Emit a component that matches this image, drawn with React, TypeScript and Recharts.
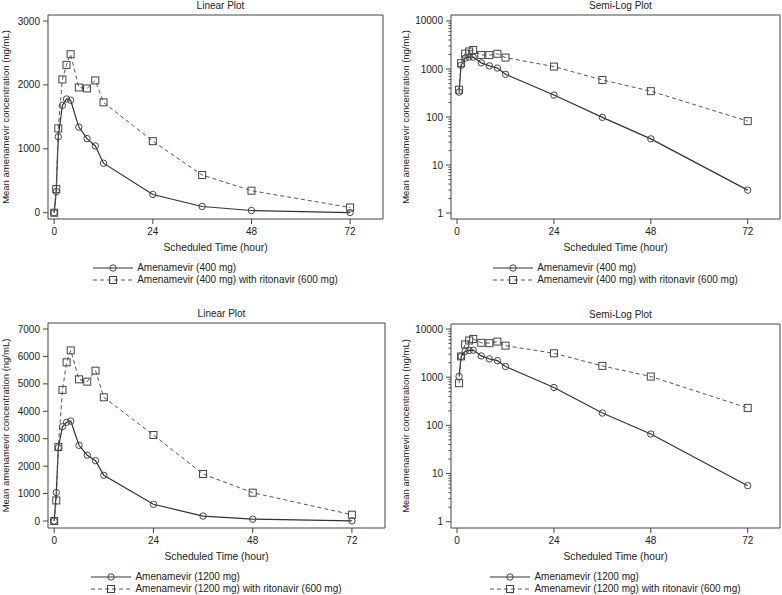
import React from 'react';
import { LineChart, Line, XAxis, YAxis, ReferenceArea, Legend } from 'recharts';

// scheduled sampling times (hour)
const hours = [0, 0.5, 1, 2, 3, 4, 6, 8, 10, 12, 24, 36, 48, 72];

// mean concentrations (ng/mL)
const amv400 = [0, 330, 1190, 1680, 1780, 1760, 1340, 1160, 1045, 775, 286, 98, 35, 3.0];
const amv400Rtv = [0, 370, 1320, 2086, 2314, 2480, 1960, 1945, 2070, 1727, 1120, 590, 345, 82];
const amv1200 = [0, 1040, 2670, 3440, 3600, 3645, 2760, 2400, 2200, 1665, 610, 180, 66, 5.6];
const amv1200Rtv = [0, 750, 2700, 4780, 5785, 6220, 5165, 5080, 5480, 4510, 3135, 1713, 1032, 230];

const names400 = ['Amenamevir (400 mg)', 'Amenamevir (400 mg) with ritonavir (600 mg)'];
const names1200 = ['Amenamevir (1200 mg)', 'Amenamevir (1200 mg) with ritonavir (600 mg)'];

const xTicks = [0, 24, 48, 72];
const yTicks400 = [0, 1000, 2000, 3000];
const yTicks1200 = [0, 1000, 2000, 3000, 4000, 5000, 6000, 7000];
const logTicks = [1, 10, 100, 1000, 10000];

const X_DOMAIN: [number, number] = [-1.5, 80];
const FONT = '"Liberation Sans", Arial, sans-serif';
const INK = '#222';
const SOLID = '#333';
const DASHED = '#555';

const buildRows = (a: number[], b: number[]) => hours.map((t, i) => ({ t, a: a[i], b: b[i] }));

// minor ticks 2..9 for each decade
const minorLogTicks: number[] = [];
for (let e = 0; e < 4; e++) {
  for (let m = 1; m <= 9; m++) minorLogTicks.push(m * Math.pow(10, e));
}
minorLogTicks.push(10000);

const SquareDot = (props: any) => {
  const { cx, cy, index } = props;
  if (cx == null || cy == null) return null;
  return <rect key={index} x={cx - 3.5} y={cy - 3.5} width={7} height={7} fill="none" stroke="#444" strokeWidth={1} />;
};

const LogTick = (props: any) => {
  const x = Number(props.x);
  const y = Number(props.y);
  const v = props.payload.value;
  const lg = Math.log10(v);
  const major = Math.abs(lg - Math.round(lg)) < 1e-9;
  return (
    <g>
      <line x1={x + (major ? 3 : 5.5)} x2={x + 8} y1={y} y2={y} stroke="#444" strokeWidth={1} />
      {major && (
        <text x={x} y={y} dy="0.355em" textAnchor="end" fontSize={10} fontFamily={FONT} fill={INK}>
          {v}
        </text>
      )}
    </g>
  );
};

const LegendBox = ({ names }: { names: string[] }) => (
  <div style={{ display: 'flex', justifyContent: 'center', fontFamily: FONT, fontSize: 10, color: INK }}>
    <div>
      {names.map((n, i) => (
        <div key={n} style={{ display: 'flex', alignItems: 'center', height: 12, lineHeight: '12px', whiteSpace: 'nowrap' }}>
          <svg width={40} height={10} style={{ marginRight: 4 }}>
            <line x1={0} x2={40} y1={5} y2={5} stroke={i === 0 ? SOLID : DASHED} strokeWidth={1} strokeDasharray={i === 0 ? undefined : '4 3'} />
            {i === 0 ? (
              <circle cx={20} cy={5} r={3.2} fill="none" stroke="#444" />
            ) : (
              <rect x={16.5} y={1.5} width={7} height={7} fill="none" stroke="#444" />
            )}
          </svg>
          <span>{n}</span>
        </div>
      ))}
    </div>
  </div>
);

type PanelProps = {
  left: number;
  top: number;
  height: number;
  title: string;
  log: boolean;
  a: number[];
  b: number[];
  names: string[];
  yTicks: number[];
  yDomain: [number, number];
  plotTop: number;
  plotBottom: number;
  yAxisWidth: number;
  rightMargin: number;
  yLabelX: number;
};

const Panel = (p: PanelProps) => {
  const width = 391;
  const rows = buildRows(p.a, p.b);
  const data = p.log ? rows.filter((r) => r.t > 0) : rows;
  const xAxisHeight = 40;
  const bottomMargin = p.height - p.plotBottom - xAxisHeight;
  const plotWidth = width - p.yAxisWidth - p.rightMargin;
  const yLabel = {
    value: 'Mean amenamevir concentration (ng/mL)',
    angle: -90,
    position: 'insideLeft',
    offset: p.yLabelX,
    style: { textAnchor: 'middle', fontSize: 9.5, fontFamily: FONT, fill: INK },
  } as any;
  return (
    <div style={{ position: 'absolute', left: p.left, top: p.top }}>
      <LineChart
        width={width}
        height={p.height}
        data={data}
        margin={{ top: p.plotTop, right: p.rightMargin, left: 0, bottom: bottomMargin }}
      >
        <XAxis
          dataKey="t"
          type="number"
          domain={X_DOMAIN}
          allowDataOverflow
          ticks={xTicks}
          interval={0}
          height={xAxisHeight}
          axisLine={false}
          tickSize={5}
          tickMargin={4}
          tickLine={{ stroke: '#444' }}
          tick={{ fontSize: 10, fontFamily: FONT, fill: INK }}
          label={{ value: 'Scheduled Time (hour)', position: 'insideBottom', offset: 8, style: { fontSize: 10.3, fontFamily: FONT, fill: INK } }}
        />
        {p.log ? (
          <YAxis
            type="number"
            scale="log"
            domain={p.yDomain}
            allowDataOverflow
            ticks={minorLogTicks}
            interval={0}
            width={p.yAxisWidth}
            axisLine={false}
            tickLine={false}
            tickSize={5}
            tickMargin={3}
            tick={<LogTick />}
            label={yLabel}
          />
        ) : (
          <YAxis
            type="number"
            domain={p.yDomain}
            allowDataOverflow
            ticks={p.yTicks}
            interval={0}
            width={p.yAxisWidth}
            axisLine={false}
            tickSize={5}
            tickMargin={3}
            tickLine={{ stroke: '#444' }}
            tick={{ fontSize: 10, fontFamily: FONT, fill: INK }}
            label={yLabel}
          />
        )}
        <ReferenceArea
          x1={X_DOMAIN[0]}
          x2={X_DOMAIN[1]}
          y1={p.yDomain[0]}
          y2={p.yDomain[1]}
          fill="none"
          fillOpacity={0}
          stroke="#444"
          strokeWidth={1}
          ifOverflow="visible"
          label={{ value: p.title, position: 'top', offset: 6, dx: 5, style: { fontSize: 10, fontFamily: FONT, fill: INK } } as any}
        />
        <Line
          type="linear"
          dataKey="a"
          name={p.names[0]}
          stroke={SOLID}
          strokeWidth={1.2}
          dot={{ r: 3.2, fill: 'none', stroke: '#444', strokeWidth: 1 }}
          isAnimationActive={false}
        />
        <Line
          type="linear"
          dataKey="b"
          name={p.names[1]}
          stroke={DASHED}
          strokeWidth={1}
          strokeDasharray="4 3"
          dot={<SquareDot />}
          isAnimationActive={false}
        />
        <Legend
          layout="horizontal"
          verticalAlign="middle"
          align="center"
          wrapperStyle={{ top: p.plotBottom + 43, left: p.yAxisWidth, width: plotWidth }}
          content={() => <LegendBox names={p.names} />}
        />
      </LineChart>
    </div>
  );
};

export default function App() {
  return (
    <div style={{ position: 'absolute', left: 0, top: 0, width: 782, height: 595, background: '#fff' }}>
      <Panel left={0} top={0} height={300} title="Linear Plot" log={false} a={amv400} b={amv400Rtv} names={names400}
        yTicks={yTicks400} yDomain={[-98, 3094]} plotTop={15} plotBottom={219} yAxisWidth={48} rightMargin={8} yLabelX={6} />
      <Panel left={391} top={0} height={300} title="Semi-Log Plot" log={true} a={amv400} b={amv400Rtv} names={names400}
        yTicks={logTicks} yDomain={[0.751, 13300]} plotTop={15} plotBottom={219} yAxisWidth={60} rightMargin={2} yLabelX={15} />
      <Panel left={0} top={300} height={295} title="Linear Plot" log={false} a={amv1200} b={amv1200Rtv} names={names1200}
        yTicks={yTicks1200} yDomain={[-255, 7219]} plotTop={23} plotBottom={228} yAxisWidth={48} rightMargin={6} yLabelX={6} />
      <Panel left={391} top={300} height={295} title="Semi-Log Plot" log={true} a={amv1200} b={amv1200Rtv} names={names1200}
        yTicks={logTicks} yDomain={[0.74, 12700]} plotTop={24} plotBottom={228} yAxisWidth={60} rightMargin={2} yLabelX={15} />
    </div>
  );
}
